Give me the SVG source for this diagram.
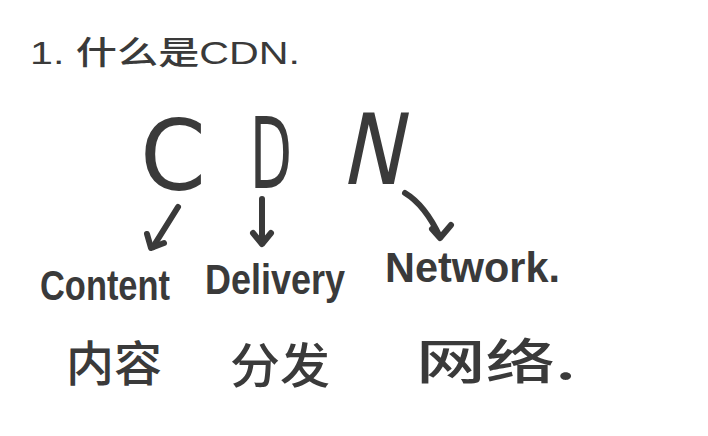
<svg xmlns="http://www.w3.org/2000/svg" width="708" height="436" viewBox="0 0 708 436">
<style>
.t{fill:#3a3a3a;font-family:"Liberation Sans","Noto Sans CJK SC",sans-serif;font-weight:bold}
.cjk{fill:#3a3a3a;font-family:"Noto Sans CJK SC",sans-serif;font-weight:500}
.big{fill:#3a3a3a;font-family:"DejaVu Sans","Liberation Sans",sans-serif}
.arr{fill:none;stroke:#3a3a3a;stroke-width:6;stroke-linecap:round;stroke-linejoin:round}
</style>
<rect width="708" height="436" fill="#ffffff"/>
<g id="title"><text class="t" x="30" y="64" font-size="32" style="font-weight:500" textLength="270" lengthAdjust="spacingAndGlyphs">1. 什么是CDN.</text></g>
<g id="node-C"><text class="big" x="140" y="190" font-size="98" textLength="66" lengthAdjust="spacingAndGlyphs">C</text></g>
<g id="node-D"><text class="big" x="250" y="188" font-size="98" textLength="42" lengthAdjust="spacingAndGlyphs">D</text></g>
<g id="node-N"><text class="big" x="340" y="184" font-size="98" textLength="62" lengthAdjust="spacingAndGlyphs" transform="translate(380 184) skewX(-12) translate(-380 -184)">N</text></g>
<g id="connectors">
<path class="arr" d="M178 207 L153 247"/>
<path class="arr" d="M147 234 L151 248 L164 243"/>
<path class="arr" d="M262 199 L262 243"/>
<path class="arr" d="M253 233 L262 244 L271 233"/>
<path class="arr" d="M405 193 Q425 205 440 237" stroke-width="8"/>
<path class="arr" d="M432 229 L440 238 L451 225"/>
</g>
<g id="node-content"><text class="t" x="40" y="300" font-size="42" textLength="130" lengthAdjust="spacingAndGlyphs">Content</text><text class="cjk" x="66" y="381" font-size="48" textLength="96" lengthAdjust="spacingAndGlyphs">内容</text></g>
<g id="node-delivery"><text class="t" x="205" y="294" font-size="42" textLength="140" lengthAdjust="spacingAndGlyphs">Delivery</text><text class="cjk" x="230" y="383" font-size="48" textLength="100" lengthAdjust="spacingAndGlyphs">分发</text></g>
<g id="node-network"><text class="t" x="385" y="282" font-size="42" textLength="175" lengthAdjust="spacingAndGlyphs">Network.</text><text class="cjk" x="416" y="379" font-size="48" textLength="160" lengthAdjust="spacingAndGlyphs">网络.</text></g>
</svg>
